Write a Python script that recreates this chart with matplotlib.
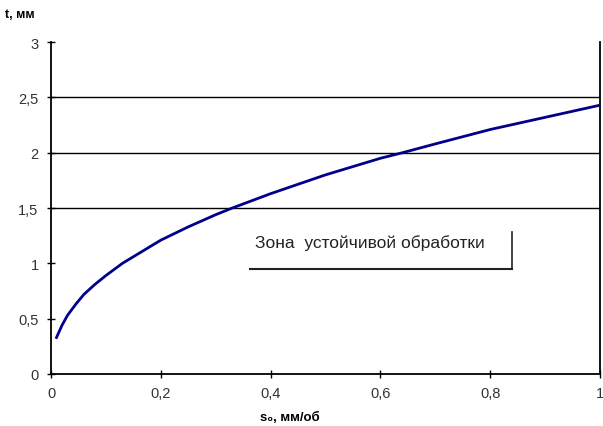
import matplotlib.pyplot as plt
import numpy as np

plt.rcParams['font.family'] = ['Liberation Sans', 'DejaVu Sans']

# feed s0 [mm/rev] vs depth of cut t [mm]
s0 = [0.01, 0.02, 0.03, 0.045, 0.06, 0.08, 0.1, 0.13, 0.16, 0.2, 0.25, 0.3, 0.33,
      0.4, 0.5, 0.6, 0.64, 0.7, 0.8, 0.9, 1.0]
t = [0.33, 0.44, 0.53, 0.63, 0.72, 0.81, 0.89, 1.0, 1.09, 1.21, 1.33, 1.44, 1.5,
     1.63, 1.80, 1.95, 2.0, 2.08, 2.21, 2.32, 2.43]

xticks = [0, 0.2, 0.4, 0.6, 0.8, 1]
xlabels = ["0", "0,2", "0,4", "0,6", "0,8", "1"]
yticks = [0, 0.5, 1, 1.5, 2, 2.5, 3]
ylabels = ["0", "0,5", "1", "1,5", "2", "2,5", "3"]
grid_y = [1.5, 2, 2.5]

fig = plt.figure(figsize=(6.03, 4.27), dpi=100)
ax = fig.add_axes([0.0846, 0.1218, 0.9104, 0.7772])

for g in grid_y:
    ax.axhline(g, color="black", lw=1.0, zorder=1)

ax.plot(s0, t, color="#00008B", lw=2.0, zorder=3)

ax.set_xlim(0, 1)
ax.set_ylim(0, 3)
ax.set_xticks(xticks)
ax.set_xticklabels(xlabels)
ax.set_yticks(yticks)
ax.set_yticklabels(ylabels)
ax.tick_params(direction="inout", length=6, width=1, labelsize=10.5,
               labelcolor="#333333", pad=6)
ax.spines["top"].set_visible(False)
for sp in ["left", "bottom", "right"]:
    ax.spines[sp].set_linewidth(1.3)

# label box with shadow lines
ax.text(0.372, 1.19, "Зона  устойчивой обработки", fontsize=12.5,
        color="#222222", va="center", ha="left", zorder=4)
ax.plot([0.363, 0.84], [0.95, 0.95], color="#222222", lw=1.5, zorder=4)
ax.plot([0.84, 0.84], [0.95, 1.28], color="#222222", lw=1.2, zorder=4)

fig.text(0.008, 0.965, "t, мм", fontsize=9, fontweight="bold", va="center")
fig.text(0.48, 0.02, "s\u2080, мм/об", fontsize=9.5, fontweight="bold",
         ha="center", va="center")

fig.savefig("out.png", dpi=100)
